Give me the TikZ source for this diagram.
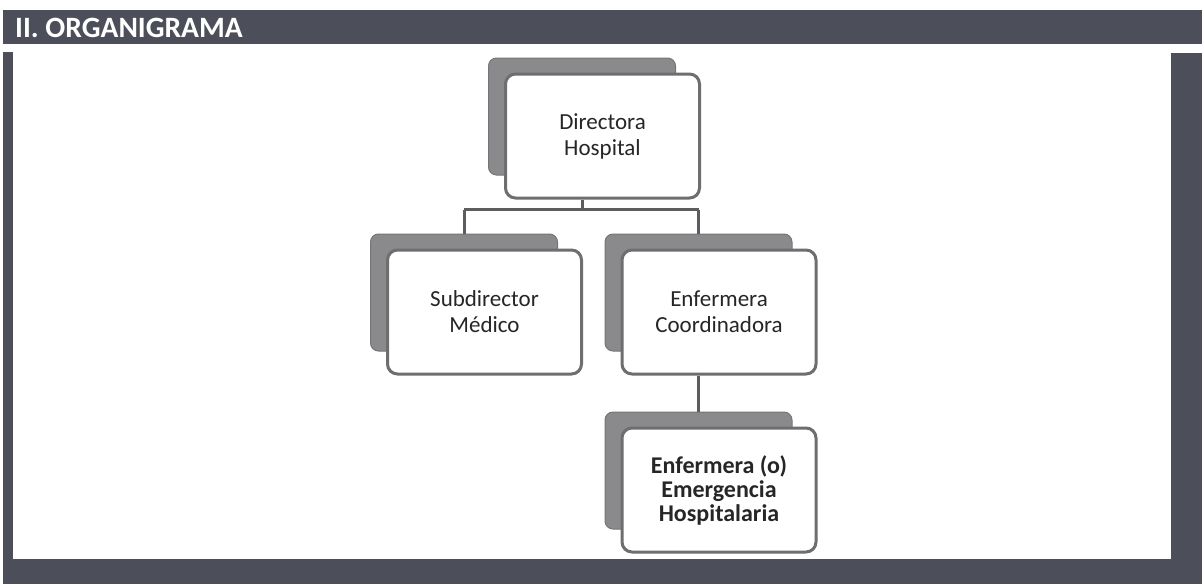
\documentclass[tikz,border=0pt]{standalone}
\usepackage{fontspec}
\setmainfont{Carlito}
\usepackage{xcolor}
\usepackage{tikz}
\usetikzlibrary{calc,positioning}
\definecolor{frame}{HTML}{4C4F5A}
\definecolor{backcard}{HTML}{8A8A8C}
\definecolor{edge}{HTML}{6E6E70}
\definecolor{ink}{HTML}{262626}
\tikzset{
  band/.style={fill=frame, draw=none},
  title/.style={text=white, font=\fontsize{29.5}{32}\selectfont\bfseries, anchor=west, inner sep=0pt},
  cardback/.style={fill=backcard, draw=backcard!85!black, line width=1pt, rounded corners=8pt,
    minimum width=187pt, minimum height=117pt, inner sep=0pt},
  card/.style={fill=white, draw=edge, line width=3pt, rounded corners=10pt,
    minimum width=194pt, minimum height=124pt, align=center, text=ink,
    font=\fontsize{23}{26}\selectfont},
  link/.style={draw=edge!85!black, line width=3pt},
}

\begin{document}
\begin{tikzpicture}[x=1pt,y=-1pt]
  \useasboundingbox (0,0) rectangle (1202,584);
  \fill[white] (0,0) rectangle (1202,584);

  \fill[band] (3,10) rectangle (1202,44);
  \fill[band] (3,52) rectangle (13,584);
  \fill[band] (1171,53) rectangle (1202,584);
  \fill[band] (3,559) rectangle (1202,584);
  \node[title] (head) at (15,28) {II. ORGANIGRAMA};

  \node[cardback] (dirsh) at (582,116.5) {};
  \node[cardback] (subsh) at (464,292.5) {};
  \node[cardback] (coordsh) at (698.5,292.5) {};
  \node[cardback] (emersh) at (698.5,470.5) {};

  \node[card] (dir) at ($(dirsh)+(20.5,19.5)$) {Directora\\Hospital};
  \node[card] (sub) at ($(subsh)+(20.5,19.5)$) {Subdirector\\Médico};
  \node[card] (coord) at ($(coordsh)+(20.5,19.5)$) {Enfermera\\Coordinadora};
  \node[card, font=\fontsize{24}{24}\selectfont\bfseries] (emer) at ($(emersh)+(20.5,19.5)$)
    {Enfermera (o)\\Emergencia\\Hospitalaria};

  \draw[link] (dir.south -| dirsh.center) -- ++(0,10) coordinate (fork);
  \draw[link] (fork -| subsh.north) -- (fork -| coordsh.north);
  \draw[link] (fork -| subsh.north) -- (subsh.north);
  \draw[link] (fork -| coordsh.north) -- (coordsh.north);
  \draw[link] (coord.south -| emersh.north) -- (emersh.north);
\end{tikzpicture}
\end{document}
